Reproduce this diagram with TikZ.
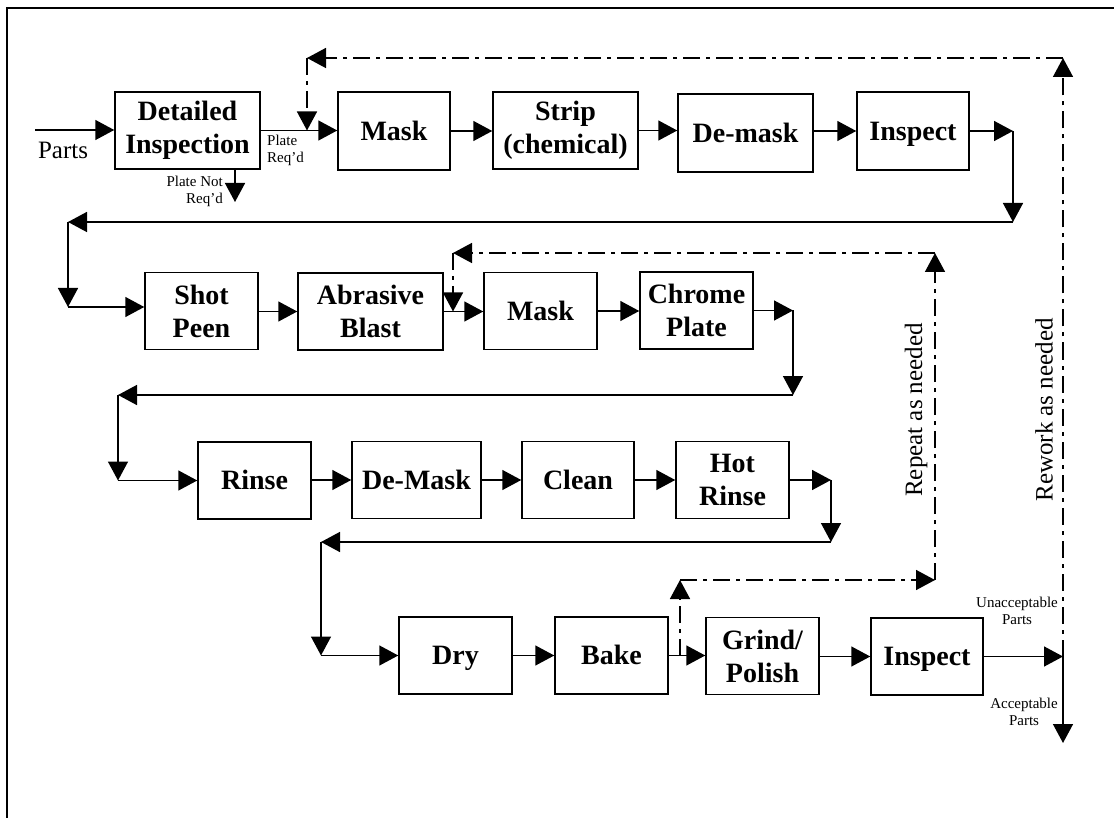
\documentclass[tikz,border=0pt]{standalone}
\usepackage{fontspec}
\setmainfont{Liberation Serif}
\usetikzlibrary{arrows.meta}
\begin{document}
\begin{tikzpicture}[x=1pt,y=-1pt,
  box/.style={draw, line width=1.5pt, align=center, inner sep=0pt,
    font=\bfseries\fontsize{28}{33}\selectfont},
  one/.style={text height=18.5pt, text depth=0pt},
  flow/.style={line width=1.5pt, -{Triangle[length=19pt,width=20pt]}},
  dd/.style={line width=1.5pt, dash pattern=on 17pt off 6pt on 4pt off 6pt},
  ddarrow/.style={dd, -{Triangle[length=19pt,width=20pt]}},
  small/.style={font=\fontsize{15}{17}\selectfont, inner sep=0pt},
  big/.style={font=\fontsize{25}{29}\selectfont, inner sep=0pt}]
\useasboundingbox (0,0) rectangle (1114,818);
\draw[line width=2pt] (7,818) -- (7,8) -- (1114,8);

% Row 1
\node[box, minimum width=145pt, minimum height=77pt] (det) at (187.5,130.5) {Detailed\\Inspection};
\node[box, one, minimum width=112pt, minimum height=78pt] (mask1) at (394,131) {Mask};
\node[box, minimum width=145pt, minimum height=77pt] (strip) at (565.5,130.5) {Strip\\(chemical)};
\node[box, one, minimum width=135pt, minimum height=78pt] (demask) at (745.5,133) {De-mask};
\node[box, one, minimum width=112pt, minimum height=78pt] (insp1) at (913,131) {Inspect};

% Row 2
\node[box, minimum width=113pt, minimum height=77pt] (shot) at (201.5,311) {Shot\\Peen};
\node[box, minimum width=145pt, minimum height=77pt] (abr) at (370.5,311.5) {Abrasive\\Blast};
\node[box, one, minimum width=113pt, minimum height=77pt] (mask2) at (540.5,311) {Mask};
\node[box, minimum width=113pt, minimum height=77pt] (chrome) at (696.5,310.5) {Chrome\\Plate};

% Row 3
\node[box, one, minimum width=113pt, minimum height=77pt] (rinse) at (254.5,480.5) {Rinse};
\node[box, one, minimum width=129pt, minimum height=77pt] (demask2) at (416.5,480) {De-Mask};
\node[box, one, minimum width=112pt, minimum height=77pt] (clean) at (578,480) {Clean};
\node[box, minimum width=113pt, minimum height=77pt] (hot) at (732.5,480) {Hot\\Rinse};

% Row 4
\node[box, one, minimum width=113pt, minimum height=77pt] (dry) at (455.5,655.5) {Dry};
\node[box, one, minimum width=113pt, minimum height=77pt] (bake) at (611.5,655.5) {Bake};
\node[box, minimum width=113pt, minimum height=77pt] (grind) at (762.5,656) {Grind/\\Polish};
\node[box, one, minimum width=112pt, minimum height=77pt] (insp2) at (927,656.5) {Inspect};

% coordinates
\coordinate (pin) at (35,130);
\coordinate (pnr) at (235,202);
\coordinate (c1) at (1013,131);
\coordinate (c2) at (1013,222);
\coordinate (c3) at (68,222);
\coordinate (c4) at (68,307);
\coordinate (d1) at (793,310.5);
\coordinate (d2) at (793,395);
\coordinate (d3) at (118,395);
\coordinate (d4) at (118,480.5);
\coordinate (e1) at (831,480);
\coordinate (e2) at (831,542);
\coordinate (e3) at (321,542);
\coordinate (e4) at (321,655.5);
\coordinate (j) at (1063,656.5);
\coordinate (acc) at (1063,743);
\coordinate (r1) at (1063,58);
\coordinate (r2) at (307,58);
\coordinate (r3) at (307,130.5);
\coordinate (p0) at (680,655.5);
\coordinate (p1) at (680,580);
\coordinate (p2) at (935,580);
\coordinate (p3) at (935,253);
\coordinate (p4) at (453,253);
\coordinate (p5) at (453,311.5);

% Row 1 flow
\draw[flow] (pin) -- (pin -| det.west);
\draw[flow] (det.east) -- (det.east -| mask1.west);
\draw[flow] (mask1.east) -- (mask1.east -| strip.west);
\draw[flow] (strip.east) -- (strip.east -| demask.west);
\draw[flow] (demask.east |- insp1.east) -- (insp1.west);
\draw[flow] (pnr |- det.south) -- (pnr);
\draw[flow] (insp1.east) -- (c1);
\draw[flow] (c1) -- (c2);
\draw[flow] (c2) -- (c3);
\draw[flow] (c3) -- (c4);
\draw[flow] (c4) -- (c4 -| shot.west);

% Row 2 flow
\draw[flow] (shot.east |- abr.west) -- (abr.west);
\draw[flow] (abr.east) -- (abr.east -| mask2.west);
\draw[flow] (mask2.east) -- (mask2.east -| chrome.west);
\draw[flow] (chrome.east) -- (d1);
\draw[flow] (d1) -- (d2);
\draw[flow] (d2) -- (d3);
\draw[flow] (d3) -- (d4);
\draw[flow] (d4) -- (d4 -| rinse.west);

% Row 3 flow
\draw[flow] (rinse.east |- demask2.west) -- (demask2.west);
\draw[flow] (demask2.east) -- (demask2.east -| clean.west);
\draw[flow] (clean.east) -- (clean.east -| hot.west);
\draw[flow] (hot.east) -- (e1);
\draw[flow] (e1) -- (e2);
\draw[flow] (e2) -- (e3);
\draw[flow] (e3) -- (e4);
\draw[flow] (e4) -- (e4 -| dry.west);

% Row 4 flow
\draw[flow] (dry.east) -- (dry.east -| bake.west);
\draw[flow] (bake.east) -- (bake.east -| grind.west);
\draw[flow] (grind.east |- insp2.west) -- (insp2.west);
\draw[flow] (insp2.east) -- (j);
\draw[flow] (j) -- (acc);

% Rework loop
\draw[ddarrow] (j) -- (r1);
\draw[ddarrow] (r1) -- (r2);
\draw[ddarrow] (r2) -- (r3);

% Repeat loop
\draw[ddarrow] (p0) -- (p1);
\draw[ddarrow] (p1) -- (p2);
\draw[ddarrow] (p2) -- (p3);
\draw[ddarrow] (p3) -- (p4);
\draw[ddarrow] (p4) -- (p5);

% Labels
\node[big] (lparts) at (63,150) {Parts};
\node[small, anchor=west, align=left] (lpr) at (267,150) {Plate\\Req'd};
\node[small, anchor=east, align=right] (lpnr) at (223,191) {Plate Not\\Req'd};
\node[small, align=center] (lun) at (1017,611) {Unacceptable\\Parts};
\node[small, align=center] (lac) at (1024,712) {Acceptable\\Parts};
\node[big, rotate=90] (lrep) at (916,410) {Repeat as needed};
\node[big, rotate=90] (lrew) at (1044,410) {Rework as needed};
\end{tikzpicture}
\end{document}
